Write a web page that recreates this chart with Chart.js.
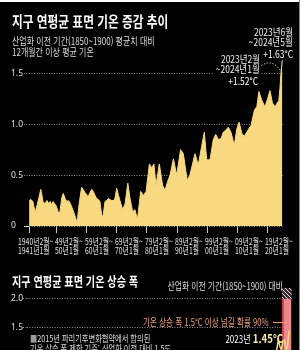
<!DOCTYPE html>
<html lang="ko">
<head>
<meta charset="utf-8">
<script src="https://cdn.jsdelivr.net/npm/chart.js@4.4.1/dist/chart.umd.min.js"></script>
<style>
    html, body { margin: 0; padding: 0; }
    body {
        width: 300px; height: 350px; overflow: hidden; position: relative;
        background: #000; color: #fff;
        font-family: 'Noto Sans CJK KR', 'Noto Sans', sans-serif;
    }
    .t { position: absolute; white-space: nowrap; line-height: 1; transform-origin: left top; }
    .r { transform-origin: right top; text-align: right; }
    canvas { position: absolute; left: 0; }
</style>
</head>
<body>
<div style="position:absolute;left:0;top:0;width:300px;height:2px;background:#fff"></div>
<div style="position:absolute;right:0;top:0;width:1px;height:350px;background:#888"></div>

<canvas id="trendChart" width="300" height="262" style="top:0"></canvas>
<canvas id="riseChart" width="300" height="86" style="top:279px"></canvas>

<!-- top chart texts -->
<div class="t" style="left:12px;top:13px;font-size:15px;font-weight:700;transform:scaleX(.78)">지구 연평균 표면 기온 증감 추이</div>
<div class="t" style="left:12px;top:36px;font-size:10px;color:#dedede;transform:scaleX(.8)">산업화 이전 기간(1850~1900) 평균치 대비</div>
<div class="t" style="left:12px;top:47px;font-size:10px;color:#dedede;transform:scaleX(.8)">12개월간 이상 평균 기온</div>

<div class="t r" style="right:7px;top:27px;font-size:10px;color:#eee;transform:scaleX(.85)">2023년6월</div>
<div class="t r" style="right:7px;top:37px;font-size:10px;color:#eee;transform:scaleX(.85)">~2024년5월</div>
<div class="t r" style="right:7px;top:49px;font-size:10px;color:#fff;transform:scaleX(.85)">+1.63°C</div>

<div class="t r" style="right:40px;top:54px;font-size:10px;color:#eee;background:#000;transform:scaleX(.85)">2023년2월</div>
<div class="t r" style="right:40px;top:64px;font-size:10px;color:#eee;background:#000;padding-left:2px;transform:scaleX(.85)">~2024년1월</div>
<div class="t r" style="right:42px;top:76px;font-size:10px;color:#fff;transform:scaleX(.85)">+1.52°C</div>

<!-- bottom chart texts -->
<div class="t" style="left:12px;top:274px;font-size:13px;font-weight:700;transform:scaleX(.78)">지구 연평균 표면 기온 상승 폭</div>
<div class="t r" style="right:17px;top:281px;font-size:10px;color:#dedede;transform:scaleX(.78)">산업화 이전 기간(1850~1900) 대비</div>
<div class="t" style="left:143px;top:317px;font-size:10px;color:#f2a27c;transform:scaleX(.76)">기온 상승 폭 1.5°C 이상 넘길 확률 90%</div>
<div style="position:absolute;left:273px;top:322px;width:14px;height:1px;background:#f2a27c"></div>
<div class="t r" style="right:17px;top:328px;color:#fff;transform:scaleX(.8)"><span style="font-size:10px">2023년 </span><span style="font-size:12px;font-weight:700;color:#fde9a6">1.45°C</span></div>
<div class="t" style="left:30px;top:334px;font-size:9.5px;color:#dedede;transform:scaleX(.76)"><span style="color:#999">■</span>2015년 파리기후변화협약에서 합의된</div>
<div class="t" style="left:30px;top:344px;font-size:9.5px;color:#dedede;transform:scaleX(.76)">기온 상승 폭 제한 기준: 산업화 이전 대비 1.5도</div>

<script>
// 12-month running mean, end of window (decimal year) vs. anomaly (°C)
const windowYears = [
    1940.7, 1941.3, 1942.0, 1942.7, 1943.3, 1944.0, 1944.6, 1945.0, 1945.3, 1946.0,
    1946.7, 1947.2, 1947.7, 1948.2, 1948.7, 1949.2, 1949.7, 1950.5, 1951.0, 1951.6,
    1952.1, 1952.7, 1953.3, 1953.8, 1954.3, 1955.3, 1956.0, 1956.7, 1957.3, 1958.2,
    1958.7, 1959.3, 1959.9, 1960.3, 1961.0, 1961.6, 1962.1, 1962.7, 1963.2, 1963.8,
    1964.3, 1964.9, 1965.3, 1966.0, 1966.6, 1967.1, 1967.7, 1968.2, 1968.8, 1969.3,
    1969.9, 1970.5, 1971.0, 1971.9, 1972.7, 1973.6, 1974.3, 1975.2, 1976.0, 1976.8,
    1977.9, 1978.8, 1979.7, 1980.8, 1981.6, 1982.3, 1983.0, 1984.1, 1985.2, 1986.0,
    1986.8, 1987.7, 1988.8, 1989.9, 1991.2, 1992.1, 1993.4, 1994.3, 1996.0, 1997.1,
    1998.2, 1999.1, 1999.9, 2001.0, 2002.1, 2002.9, 2003.8, 2004.7, 2005.4, 2006.2,
    2007.1, 2008.0, 2009.1, 2009.9, 2010.7, 2011.6, 2012.4, 2013.6, 2014.7, 2015.8,
    2016.6, 2017.3, 2018.2, 2019.3, 2020.2, 2021.0, 2021.8, 2022.7, 2023.6, 2023.9,
    2024.3, 2024.7, 2025.1
];
const anomalyValues = [
    0.25, 0.26, 0.24, 0.13, 0.20, 0.28, 0.36, 0.30, 0.24, 0.22,
    0.25, 0.22, 0.24, 0.21, 0.24, 0.22, 0.20, 0.13, 0.14, 0.28,
    0.32, 0.27, 0.24, 0.25, 0.23, 0.16, 0.10, 0.03, 0.20, 0.38,
    0.36, 0.33, 0.31, 0.28, 0.33, 0.36, 0.34, 0.30, 0.27, 0.26,
    0.24, 0.11, 0.09, 0.24, 0.25, 0.27, 0.26, 0.25, 0.25, 0.27,
    0.37, 0.30, 0.25, 0.16, 0.22, 0.42, 0.28, 0.14, 0.16, 0.06,
    0.34, 0.30, 0.34, 0.61, 0.57, 0.61, 0.40, 0.61, 0.40, 0.35,
    0.43, 0.50, 0.66, 0.50, 0.75, 0.71, 0.45, 0.50, 0.71, 0.60,
    0.78, 0.92, 0.65, 0.65, 0.85, 0.90, 0.85, 0.86, 0.92, 0.94,
    0.97, 0.92, 0.79, 0.95, 1.02, 0.91, 0.88, 0.94, 0.99, 1.14,
    1.17, 1.32, 1.24, 1.17, 1.25, 1.33, 1.21, 1.17, 1.22, 1.22,
    1.35, 1.52, 1.63
];
const tickYears = [1941, 1950, 1960, 1970, 1980, 1990, 2000, 2010, 2020];
const tickLabels = [
    ['1940년2월~', '1941년1월'], ['49년2월~', '50년1월'], ['59년2월~', '60년1월'],
    ['69년2월~', '70년1월'], ['79년2월~', '80년1월'], ['89년2월~', '90년1월'],
    ['99년2월~', '00년1월'], ['09년2월~', '10년1월'], ['19년2월~', '20년1월']
];

// annual rise vs. 1850~1900
const annualYears = [
    2000, 2001, 2002, 2003, 2004, 2005, 2006, 2007, 2008, 2009, 2010, 2011,
    2012, 2013, 2014, 2015, 2016, 2017, 2018, 2019, 2020, 2021, 2022, 2023
];
const annualValues = [
    0.72, 0.86, 0.90, 0.90, 0.84, 0.95, 0.92, 0.93, 0.83, 0.93, 1.00, 0.87,
    0.90, 0.94, 1.00, 1.14, 1.30, 1.18, 1.12, 1.27, 1.29, 1.12, 1.17, 1.45
];
const bandYear = 2021.6;
const bandRange = [1.0, 2.0];
const bandHatchRange = [2.0, 2.18];

const YELLOW = '#f8d980';
const GRID = '#8c8c8c';

// x tick labels, drawn condensed under each tick
const tickLabelPlugin = {
    id: 'tickLabels',
    afterDraw(chart) {
        const { ctx, scales: { x } } = chart;
        ctx.save();
        ctx.fillStyle = '#e0e0e0';
        ctx.font = '9.5px "Noto Sans CJK KR"';
        ctx.textBaseline = 'middle';
        ctx.textAlign = 'left';
        tickYears.forEach((yr, i) => {
            const px = x.getPixelForValue(yr) + (i === 0 ? -12 : -2);
            tickLabels[i].forEach((line, j) => {
                ctx.save();
                ctx.translate(px, x.top + 15.5 + j * 9);
                ctx.scale(0.72, 1);
                ctx.fillText(line, 0, 0);
                ctx.restore();
            });
        });
        ctx.restore();
    }
};

// dashed curved pointer to the 2023.2~2024.1 value
const peakArcPlugin = {
    id: 'peakArc',
    afterDatasetsDraw(chart) {
        const { ctx, scales: { x, y } } = chart;
        const i = anomalyValues.length - 2;
        const ex = x.getPixelForValue(windowYears[i]) - 1;
        const ey = y.getPixelForValue(anomalyValues[i]) - 1;
        ctx.save();
        ctx.strokeStyle = '#cfcfcf';
        ctx.lineWidth = 1;
        ctx.setLineDash([1.5, 1.5]);
        ctx.beginPath();
        ctx.moveTo(ex - 19, ey - 4.5);
        ctx.quadraticCurveTo(ex - 8, ey - 12, ex, ey);
        ctx.stroke();
        ctx.restore();
    }
};

function makeHatch(ctx) {
    const c = document.createElement('canvas');
    c.width = 4; c.height = 4;
    const g = c.getContext('2d');
    g.fillStyle = '#3a2a2a';
    g.fillRect(0, 0, 4, 4);
    g.strokeStyle = '#e0e0e0';
    g.lineWidth = 1;
    g.beginPath();
    g.moveTo(0, 0); g.lineTo(4, 4);
    g.stroke();
    return ctx.createPattern(c, 'repeat');
}

const trendCtx = document.getElementById('trendChart');
new Chart(trendCtx, {
    type: 'line',
    data: {
        datasets: [{
            data: windowYears.map((yr, i) => ({ x: yr, y: anomalyValues[i] })),
            fill: 'origin',
            backgroundColor: YELLOW,
            borderColor: YELLOW,
            borderWidth: 1,
            pointRadius: 0,
            tension: 0
        }]
    },
    options: {
        responsive: false,
        animation: false,
        layout: { padding: { top: 58, left: 11, right: 17, bottom: 0 } },
        plugins: { legend: { display: false }, tooltip: { enabled: false } },
        scales: {
            x: {
                type: 'linear',
                min: 1940.67,
                max: 2025.33,
                afterBuildTicks: (s) => { s.ticks = tickYears.map(v => ({ value: v })); },
                afterFit: (s) => { s.height = 36; },
                ticks: { display: false },
                grid: { drawOnChartArea: false, color: '#c8c8c8', tickLength: 7 },
                border: { display: false }
            },
            y: {
                min: 0,
                max: 1.65,
                afterFit: (s) => { s.width = 18; },
                ticks: {
                    stepSize: 0.5,
                    includeBounds: false,
                    crossAlign: 'far',
                    color: '#e0e0e0',
                    font: { family: 'Noto Sans', size: 8.5 },
                    callback: (v) => (v === 0 ? '0' : v.toFixed(1))
                },
                grid: {
                    color: GRID,
                    tickLength: 5,
                    tickColor: (c) => (c.tick && c.tick.value === 0 ? '#cfcfcf' : GRID),
                    tickBorderDash: (c) => (c.tick && c.tick.value === 0 ? [] : [1, 1.5])
                },
                border: { display: false, dash: [1, 1.5] }
            }
        }
    },
    plugins: [tickLabelPlugin, peakArcPlugin]
});

const riseCtx = document.getElementById('riseChart');
const hatch = makeHatch(riseCtx.getContext('2d'));
new Chart(riseCtx, {
    type: 'line',
    data: {
        datasets: [{
            type: 'line',
            data: annualYears.map((yr, i) => ({ x: yr, y: annualValues[i] })),
            borderColor: YELLOW,
            borderWidth: 1.5,
            pointRadius: 0,
            tension: 0,
            order: 0
        }, {
            type: 'bar',
            data: [{ x: bandYear, y: bandRange }],
            backgroundColor: '#e8898c',
            borderColor: '#d8434c',
            borderWidth: { left: 2, top: 0, right: 0, bottom: 0 },
            borderSkipped: false,
            barThickness: 9,
            grouped: false,
            order: 2
        }, {
            type: 'bar',
            data: [{ x: bandYear, y: bandHatchRange }],
            backgroundColor: hatch,
            borderWidth: 0,
            barThickness: 9,
            grouped: false,
            order: 2
        }]
    },
    options: {
        responsive: false,
        animation: false,
        layout: { padding: { top: 8, left: 11, right: 8, bottom: 8 } },
        plugins: { legend: { display: false }, tooltip: { enabled: false } },
        scales: {
            x: { type: 'linear', min: 1850, max: 2025, display: false, offset: false },
            y: {
                min: 1.0,
                max: 2.2,
                afterFit: (s) => { s.width = 16; },
                ticks: {
                    stepSize: 0.5,
                    includeBounds: false,
                    crossAlign: 'far',
                    color: '#e0e0e0',
                    font: { family: 'Noto Sans', size: 8.5 },
                    callback: (v) => v.toFixed(1)
                },
                grid: { color: GRID, tickLength: 4, tickBorderDash: [1, 1.5] },
                border: { display: false, dash: [1, 1.5] }
            }
        }
    }
});
</script>
</body>
</html>
